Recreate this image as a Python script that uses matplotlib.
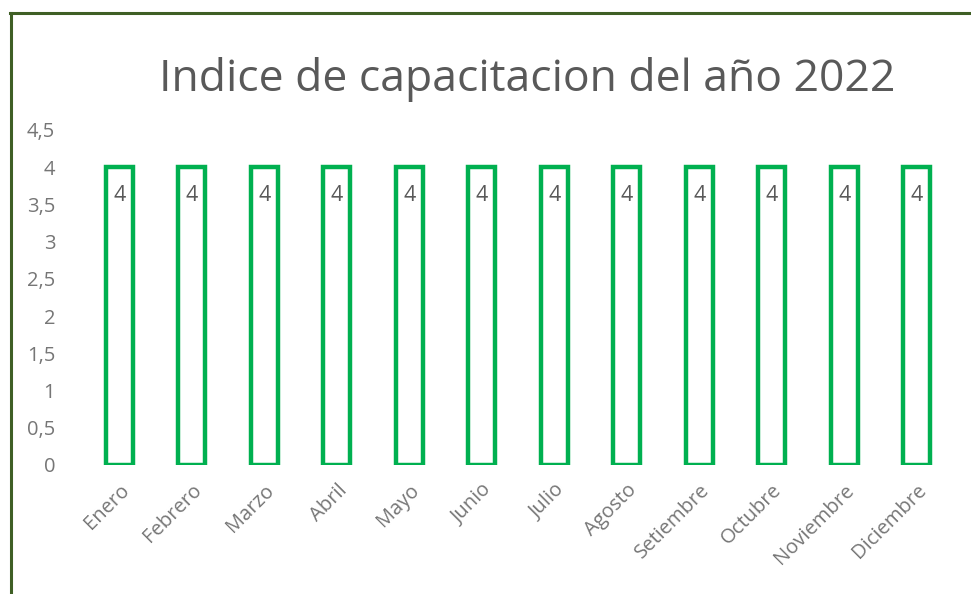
import matplotlib
matplotlib.use("Agg")
import matplotlib.pyplot as plt
from matplotlib.lines import Line2D

meses = ["Enero", "Febrero", "Marzo", "Abril", "Mayo", "Junio", "Julio",
         "Agosto", "Setiembre", "Octubre", "Noviembre", "Diciembre"]
indice = [4, 4, 4, 4, 4, 4, 4, 4, 4, 4, 4, 4]
yticks = [0, 0.5, 1, 1.5, 2, 2.5, 3, 3.5, 4, 4.5]
ytick_labels = ["0", "0,5", "1", "1,5", "2", "2,5", "3", "3,5", "4", "4,5"]

plt.rcParams["font.family"] = ["Open Sans", "DejaVu Sans"]
W, H = 971, 594
fig = plt.figure(figsize=(W / 100, H / 100), dpi=100)

# plot area in pixels: left 83, right 953, y 4.5 at 130, 0 at 465
ax = fig.add_axes([83 / W, 1 - 465 / H, 870 / W, 335 / H])
x = range(len(meses))
ax.bar(x, indice, width=0.37, facecolor="none", edgecolor="#00B050",
       linewidth=3.2, joinstyle="miter")
for xi, v in zip(x, indice):
    ax.text(xi, v - 0.38, f"{v}", ha="center", va="center",
            fontsize=15.5, color="#595959")

ax.set_xlim(-0.5, len(meses) - 0.5)
ax.set_ylim(0, 4.5)
ax.set_yticks(yticks)
ax.set_yticklabels(ytick_labels)
ax.set_xticks(list(x))
ax.set_xticklabels(meses, rotation=45, ha="right", rotation_mode="anchor")
ax.tick_params(axis="both", length=0, labelsize=14.5, colors="#767676")
ax.tick_params(axis="y", pad=20)
ax.tick_params(axis="x", pad=11)
for s in ax.spines.values():
    s.set_visible(False)

fig.text(527 / W, 1 - 80 / H, "Indice de capacitacion del año 2022",
         ha="center", va="center", fontsize=32, color="#595959")

# chart frame (left and top edges visible)
fig.add_artist(Line2D([11 / W, 11 / W], [0, 1 - 13 / H], color="#3f5f25",
                      linewidth=2.2, transform=fig.transFigure))
fig.add_artist(Line2D([10 / W, 1], [1 - 13 / H, 1 - 13 / H], color="#3f5f25",
                      linewidth=2.2, transform=fig.transFigure))

fig.savefig("out.png", dpi=100)
